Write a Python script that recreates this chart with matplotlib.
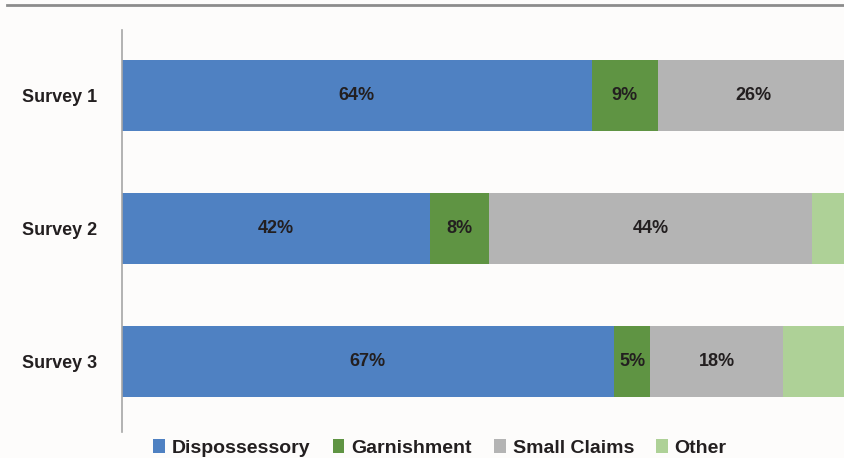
import numpy as np
import matplotlib
matplotlib.use('Agg')
import matplotlib.pyplot as plt
from matplotlib.lines import Line2D

surveys = ['Survey 1', 'Survey 2', 'Survey 3']
categories = ['Dispossessory', 'Garnishment', 'Small Claims', 'Other']
dispossessory = [64, 42, 67]
garnishment = [9, 8, 5]
small_claims = [26, 44, 18]
other = [1, 6, 10]
colors = ['#4f81c2', '#5f9443', '#b4b4b4', '#aed197']

plt.rcParams['font.family'] = ['Liberation Sans Narrow', 'Liberation Sans', 'DejaVu Sans']

fig = plt.figure(figsize=(8.45, 4.58), dpi=100, facecolor='#fdfcfb')
ax = fig.add_axes([122/845, 1 - 432/458, 734/845, 402/458])
ax.set_facecolor('#fdfcfb')

y = np.arange(len(surveys))
series = [dispossessory, garnishment, small_claims, other]
left = np.zeros(len(surveys))
for name, vals, c in zip(categories, series, colors):
    vals = np.array(vals, dtype=float)
    bars = ax.barh(y, vals, left=left, height=0.535, color=c, label=name)
    if name != 'Other':
        for b, v in zip(bars, vals):
            ax.text(b.get_x() + b.get_width() / 2, b.get_y() + b.get_height() / 2,
                    '%d%%' % v, ha='center', va='center', fontsize=13,
                    fontweight='bold', color='#231f20')
    left += vals

ax.set_xlim(0, 100)
ax.set_ylim(2.53, -0.49)
ax.set_yticks(y)
ax.set_yticklabels(surveys, fontsize=13, fontweight='bold', color='#231f20')
ax.tick_params(axis='y', length=0, pad=18)
ax.set_xticks([])
for s in ['top', 'right', 'bottom']:
    ax.spines[s].set_visible(False)
ax.spines['left'].set_color('#a6a6a6')
ax.spines['left'].set_linewidth(1.2)

# top rule
fig.add_artist(Line2D([7/845, 1], [1 - 5/458, 1 - 5/458], color='#8c8c8c', lw=2))

leg = fig.legend(loc='center', bbox_to_anchor=(440/845, 1 - 448/458), ncol=4,
                 frameon=False, prop={'size': 14, 'weight': 'bold'},
                 handlelength=0.6, handleheight=0.75, handletextpad=0.35,
                 columnspacing=1.15, labelcolor='#231f20')

fig.savefig('out.png', dpi=100, facecolor=fig.get_facecolor())
